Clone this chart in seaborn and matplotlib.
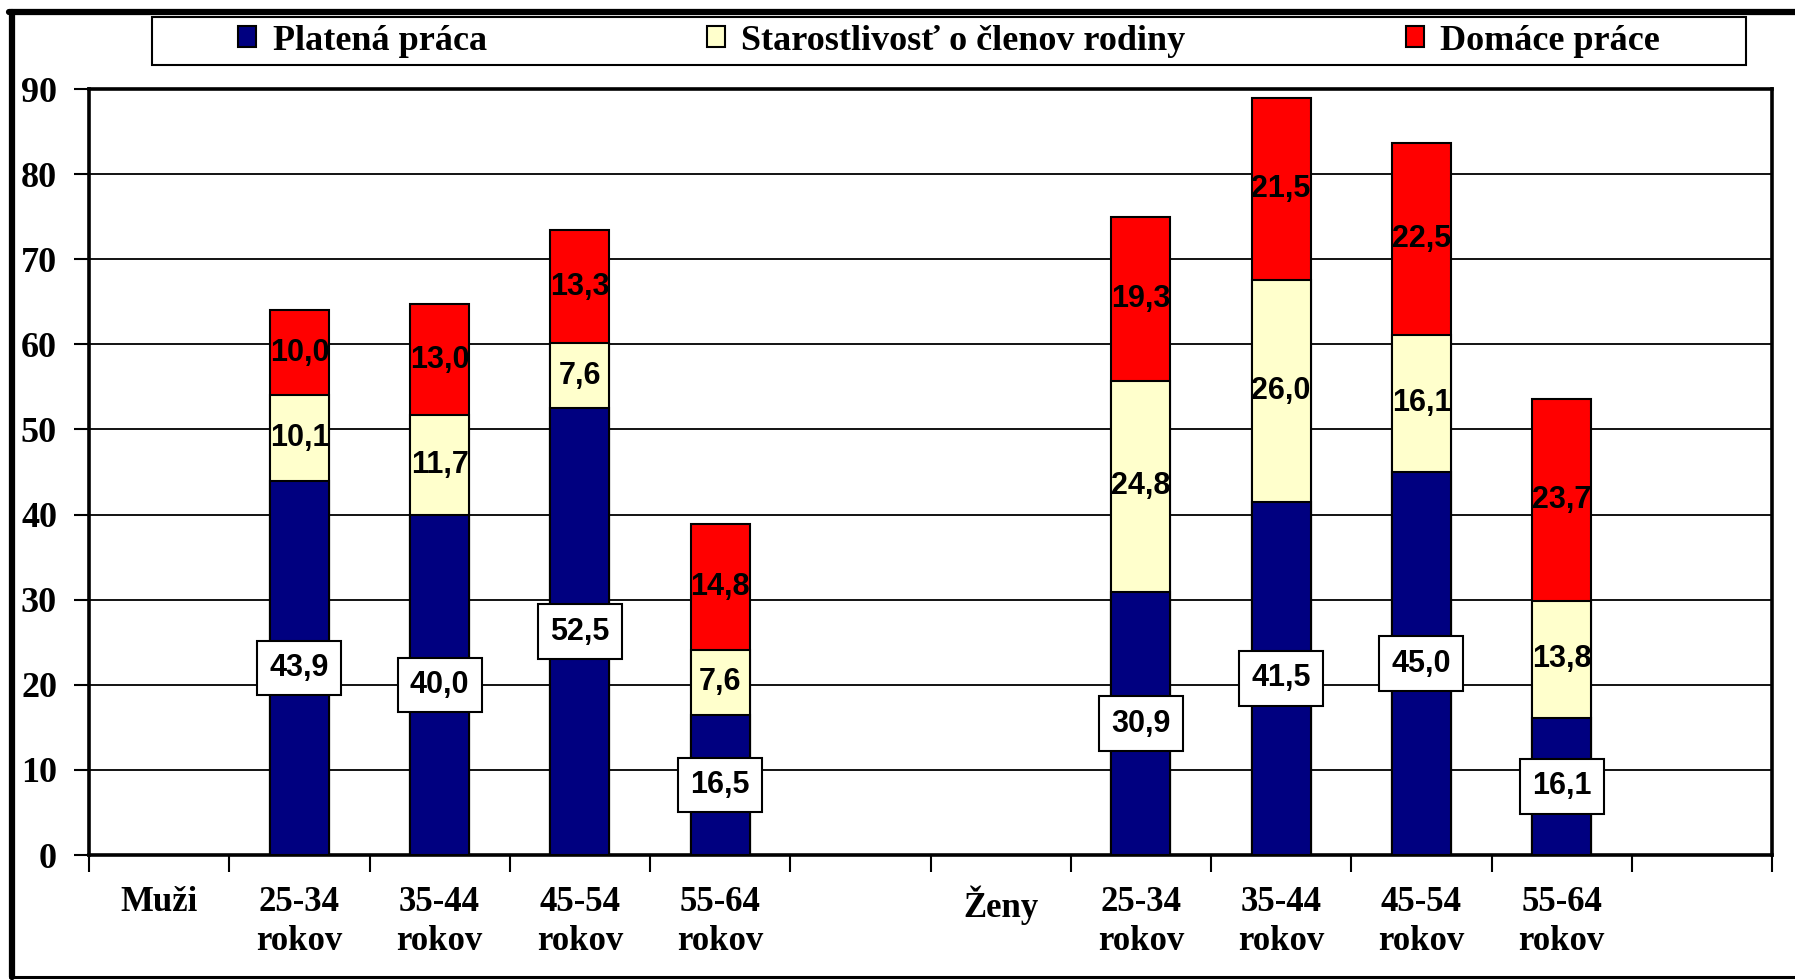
import numpy as np
import pandas as pd
import matplotlib
matplotlib.use("Agg")
import matplotlib.pyplot as plt
from matplotlib.patches import Rectangle, Patch
from matplotlib.lines import Line2D
import seaborn as sns

# Category slots along the x axis (two blank slots separate and close the groups)
slots = ["Muži", "M 25-34", "M 35-44", "M 45-54", "M 55-64", "M -",
         "Ženy", "Ž 25-34", "Ž 35-44", "Ž 45-54", "Ž 55-64", "Ž -"]
slot_labels = ["Muži", "25-34\nrokov", "35-44\nrokov", "45-54\nrokov", "55-64\nrokov", "",
               "Ženy", "25-34\nrokov", "35-44\nrokov", "45-54\nrokov", "55-64\nrokov", ""]

groups = ["M 25-34", "M 35-44", "M 45-54", "M 55-64",
          "Ž 25-34", "Ž 35-44", "Ž 45-54", "Ž 55-64"]
platena = [43.9, 40.0, 52.5, 16.5, 30.9, 41.5, 45.0, 16.1]
starostlivost = [10.1, 11.7, 7.6, 7.6, 24.8, 26.0, 16.1, 13.8]
domace = [10.0, 13.0, 13.3, 14.8, 19.3, 21.5, 22.5, 23.7]

series = ["Platená práca", "Starostlivosť o členov rodiny", "Domáce práce"]
colors = ["#000080", "#FFFFCC", "#FF0000"]

y_ticks = [0, 10, 20, 30, 40, 50, 60, 70, 80, 90]

sns.set_style("white")
plt.rcParams["font.family"] = ["Liberation Serif", "DejaVu Serif"]
plt.rcParams["text.color"] = "black"
plt.rcParams["axes.labelcolor"] = "black"
plt.rcParams["xtick.color"] = "black"
plt.rcParams["ytick.color"] = "black"

df = pd.DataFrame({"skupina": groups, "p": platena, "s": starostlivost, "d": domace})
df["ps"] = df["p"] + df["s"]
df["psd"] = df["ps"] + df["d"]

W, H = 1795, 980
fig = plt.figure(figsize=(W / 100, H / 100), dpi=100)
ax = fig.add_axes([89 / W, 1 - 855 / H, (1772 - 89) / W, (855 - 89) / H])

# Stacked bars drawn as overlapping cumulative totals (back to front)
for col, c in [("psd", colors[2]), ("ps", colors[1]), ("p", colors[0])]:
    sns.barplot(data=df, x="skupina", y=col, order=slots, color=c, saturation=1,
                width=0.42, edgecolor="black", linewidth=1.5, errorbar=None,
                ax=ax, zorder=3)

def fmt(v):
    return f"{v:.1f}".replace(".", ",")

pos = {k: i for i, k in enumerate(slots)}
lab_font = dict(family="Liberation Sans", fontsize=22, fontweight="bold",
                color="black", ha="center", va="center", zorder=6)
for g, p, s, d in zip(groups, platena, starostlivost, domace):
    x = pos[g]
    ax.text(x, p / 2, fmt(p),
            bbox=dict(boxstyle="square,pad=0.4", fc="white", ec="black", lw=1.5),
            **lab_font)
    ax.text(x, p + s / 2, fmt(s), **lab_font)
    ax.text(x, p + s + d / 2, fmt(d), **lab_font)

ax.set_ylim(0, 90)
ax.set_xlim(-0.5, len(slots) - 0.5)
ax.set_xlabel("")
ax.set_ylabel("")

ax.set_yticks(y_ticks)
ax.set_yticklabels([str(t) for t in y_ticks])
ax.tick_params(axis="y", left=True, length=11, width=1.5, pad=12, direction="out",
               labelsize=26, colors="black")
for t in ax.get_yticklabels():
    t.set_fontweight("bold")

ax.set_xticks(np.arange(-0.5, len(slots), 1.0))
ax.set_xticklabels([])
ax.set_xticks(np.arange(len(slots)), minor=True)
ax.set_xticklabels(slot_labels, minor=True, fontsize=25, fontweight="bold",
                   linespacing=1.25, color="black")
ax.tick_params(axis="x", which="major", bottom=True, length=12, width=1.5,
               direction="out", colors="black")
ax.tick_params(axis="x", which="minor", bottom=True, length=0, pad=22,
               colors="black")

ax.yaxis.grid(True, color="black", linewidth=1.3)
ax.xaxis.grid(False)
ax.set_axisbelow(True)
for sp in ax.spines.values():
    sp.set_visible(True)
    sp.set_color("black")
    sp.set_linewidth(2.6)

# Legend in a framed band above the plot
handles = [Patch(facecolor=c, edgecolor="black", linewidth=1.5) for c in colors]
fig.legend(handles, series, loc="center", bbox_to_anchor=(949 / W, 1 - 41 / H),
           ncol=3, frameon=False, labelcolor="black",
           prop=dict(family="Liberation Serif", weight="bold", size=26),
           handlelength=0.5, handleheight=0.5, handletextpad=0.45,
           columnspacing=6.1)
fig.add_artist(Rectangle((152 / W, 1 - 65 / H), (1746 - 152) / W, 48 / H,
                         transform=fig.transFigure, fill=False,
                         edgecolor="black", linewidth=1.5))

# Outer frame: heavy left/top rules, lighter bottom rule
fig.add_artist(Line2D([12 / W, 12 / W], [1 - 12 / H, 1 - 977 / H],
                      transform=fig.transFigure, color="black", linewidth=4.5))
fig.add_artist(Line2D([9 / W, 1.01], [1 - 12 / H, 1 - 12 / H],
                      transform=fig.transFigure, color="black", linewidth=4.5))
fig.add_artist(Line2D([10 / W, 1.01], [1 - 977 / H, 1 - 977 / H],
                      transform=fig.transFigure, color="black", linewidth=2.2))

fig.savefig("out.png", dpi=100, facecolor="white")
